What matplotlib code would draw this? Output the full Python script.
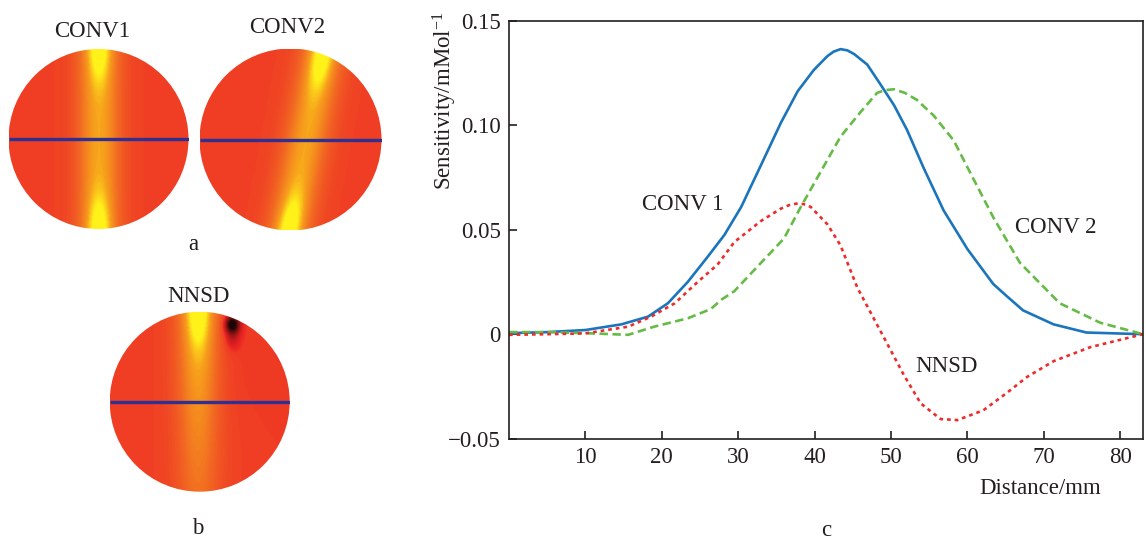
import numpy as np
import matplotlib
matplotlib.use("Agg")
import matplotlib.pyplot as plt
from matplotlib.colors import LinearSegmentedColormap
from matplotlib.patches import Circle

plt.rcParams['font.family'] = ['Liberation Serif', 'DejaVu Serif']
plt.rcParams['mathtext.fontset'] = 'custom'
plt.rcParams['mathtext.rm'] = 'Liberation Serif'
plt.rcParams['mathtext.it'] = 'Liberation Serif:italic'
plt.rcParams['axes.unicode_minus'] = True

# ---------------- data ----------------
conv1_x = [0, 5, 10, 14.7, 18.2, 20.8, 23.4, 26.0, 28.2, 30.4, 33.0, 35.6, 37.8,
           39.9, 41.7, 42.5, 43.4, 44.3, 45.2, 46.9, 48.6, 50.4, 52.1, 54.3, 56.9,
           60.0, 63.4, 65.2, 67.3, 71.3, 75.6, 83.0]
conv1_y = [0.0005, 0.001, 0.002, 0.0047, 0.0084, 0.0148, 0.025, 0.037, 0.0475,
           0.0609, 0.081, 0.1012, 0.1163, 0.1264, 0.1331, 0.1352, 0.1364, 0.1358,
           0.134, 0.129, 0.1197, 0.1096, 0.0978, 0.0794, 0.0592, 0.0408, 0.024,
           0.0181, 0.0114, 0.0047, 0.0008, 0.0]

conv2_x = [0, 5, 10, 15.6, 19.0, 23.4, 26.4, 27.8, 29.5, 32.1, 36.0, 38.2, 40.8,
           43.4, 46.0, 48.2, 49.3, 50.4, 51.8, 53.4, 55.6, 58.2, 60.8, 63.4, 66.9,
           72.1, 77.4, 83.0]
conv2_y = [0.001, 0.001, 0.0005, -0.0003, 0.0036, 0.0076, 0.012, 0.0165, 0.0206,
           0.0307, 0.0458, 0.0609, 0.0777, 0.0945, 0.1062, 0.1155, 0.1168, 0.1172,
           0.1155, 0.1121, 0.1046, 0.0928, 0.0743, 0.0559, 0.0341, 0.0148,
           0.0055, 0.0]

nnsd_x = [0, 5, 10, 15.6, 18.6, 21.7, 24.7, 27.3, 29.5, 33.0, 35.6, 36.7, 37.8,
          38.6, 39.5, 41.7, 43.4, 45.6, 47.8, 50.0, 51.7, 53.9, 56.5, 58.7, 62.1,
          65.2, 67.8, 71.3, 76.1, 83.0]
nnsd_y = [-0.0003, 0.0, 0.0004, 0.0036, 0.0084, 0.0148, 0.025, 0.0333, 0.0441,
          0.0542, 0.0601, 0.0618, 0.0626, 0.0622, 0.0609, 0.0525, 0.0425, 0.0223,
          0.0072, -0.0079, -0.0196, -0.0331, -0.0406, -0.0411, -0.0364, -0.028,
          -0.0205, -0.0129, -0.0062, 0.0]

x_ticks = [10, 20, 30, 40, 50, 60, 70, 80]
y_ticks = [-0.05, 0, 0.05, 0.10, 0.15]
y_tick_labels = ['\u22120.05', '0', '0.05', '0.10', '0.15']

series_labels = ['CONV 1', 'CONV 2', 'NNSD']
map_titles = ['CONV1', 'CONV2', 'NNSD']
panel_letters = ['a', 'b', 'c']

# ---------------- figure ----------------
fig = plt.figure(figsize=(11.46, 5.47), dpi=100)
FS = 16.5
TXT = '#231F20'

# ----- heat-map discs -----
cmap = LinearSegmentedColormap.from_list(
    'heat', [(0.0, '#140606'), (0.30, '#a01515'), (0.47, '#EC2424'), (0.5, '#EF3A24'),
             (0.68, '#F26B22'), (0.85, '#F7A01C'), (1.0, '#FFF21A')])

n = 300
u, v = np.meshgrid(np.linspace(-1, 1, n), np.linspace(-1, 1, n))


def g(a, s):
    return np.exp(-a ** 2 / (2 * s ** 2))


def band(d, vv, top_amp, bottom_amp):
    amp = bottom_amp + (top_amp - bottom_amp) * (vv + 1) / 2
    return amp * g(d, 0.16) + 0.08 * g(d, 0.35)


def field_conv1():
    f = band(u, v, 0.62, 0.62) + 0.14 * v ** 4 * g(u, 0.11)
    f += 0.38 * g(u, 0.08) * (g(v - 0.98, 0.26) + g(v + 0.98, 0.26))
    return f


def field_conv2():
    d = (u - (0.17 + 0.19 * v)) / np.sqrt(1 + 0.19 ** 2)
    f = band(d, v, 0.62, 0.62) + 0.14 * v ** 4 * g(d, 0.11)
    f += 0.38 * g(d, 0.08) * g(v - 0.86, 0.24)
    f += 0.38 * g(d, 0.08) * g(v + 0.93, 0.24)
    return f


def field_nnsd():
    f = band(u + 0.02, v, 0.68, 0.30) + 0.15 * g(u + 0.02, 0.09) * ((v + 1) / 2) ** 3
    f += 0.38 * g(u + 0.02, 0.08) * g(v - 0.98, 0.24)
    f -= 0.04 * (0.5 + 0.5 * np.tanh((u - 0.2) / 0.1)) * (0.5 + 0.5 * np.tanh(v / 0.4))
    f -= 1.0 * g(u - 0.36, 0.055) * g(v - 0.87, 0.065)
    f -= 0.35 * g(u - 0.36, 0.06) * g(v - 0.76, 0.11)
    return f


discs = [
    (field_conv1(), (98.5, 139.0, 90.0), (92.5, 31.5)),
    (field_conv2(), (290.5, 139.5, 91.0), (287.5, 27.5)),
    (field_nnsd(), (199.7, 401.7, 90.0), (198.0, 296.0)),
]

W, H = 1146.0, 547.0
for (fld, (cx, cy, r), (tx, ty)), title in zip(discs, map_titles):
    ax = fig.add_axes([(cx - r) / W, 1 - (cy + r) / H, 2 * r / W, 2 * r / H])
    levels = np.linspace(-1, 1, 61)
    fq = np.digitize(np.clip(fld, -1, 1), levels) / 60.0 * 2 - 1
    im = ax.imshow(fq, extent=[-1, 1, -1, 1], origin='lower', cmap=cmap,
                   vmin=-1, vmax=1, interpolation='bilinear')
    circ = Circle((0, 0), 1.0, transform=ax.transData, facecolor='none',
                  edgecolor='none')
    ax.add_patch(circ)
    im.set_clip_path(circ)
    ax.plot([-1, 1], [0, 0], color='#2E3192', lw=2.4, solid_capstyle='butt')
    ax.set_xlim(-1, 1)
    ax.set_ylim(-1, 1)
    ax.axis('off')
    fig.text(tx / W, 1 - ty / H, title, ha='center', va='center', fontsize=FS,
             color=TXT)

fig.text(193 / W, 1 - 245 / H, panel_letters[0], ha='center', va='center', fontsize=FS, color=TXT)
fig.text(198 / W, 1 - 528 / H, panel_letters[1], ha='center', va='center', fontsize=FS, color=TXT)
fig.text(826 / W, 1 - 530 / H, panel_letters[2], ha='center', va='center', fontsize=FS, color=TXT)

# ----- line chart -----
L, R, T, B = 509, 1143, 20.7, 438.7
axc = fig.add_axes([L / W, 1 - B / H, (R - L) / W, (B - T) / H])
axc.plot(conv1_x, conv1_y, color='#1B75BC', lw=1.9, solid_joinstyle='round')
axc.plot(conv2_x, conv2_y, color='#66BB46', lw=1.9, dashes=(3.2, 1.7))
axc.plot(nnsd_x, nnsd_y, color='#EE2B2B', lw=1.9, dashes=(1.4, 1.5))
axc.set_xlim(0, 83)
axc.set_ylim(-0.05, 0.15)
axc.set_xticks(x_ticks)
axc.set_xticklabels([str(t) for t in x_ticks])
axc.set_yticks(y_ticks)
axc.set_yticklabels(y_tick_labels)
axc.tick_params(direction='in', length=6, width=1.2, labelsize=FS, pad=6,
                colors=TXT)
for sp in axc.spines.values():
    sp.set_linewidth(1.2)
    sp.set_color(TXT)

# y label: placed in the upper part, as in the reference
fig.text(445 / W, 1 - 12 / H, 'Sensitivity/mMol$^{-1}$', rotation=90,
         ha='center', va='top', fontsize=FS, color=TXT)

axc.text((1040 - L) / (R - L), (B - 489) / (B - T), 'Distance/mm',
         transform=axc.transAxes, ha='center', va='center', fontsize=FS, color=TXT)

label_pos = [(683, 205), (1056, 228), (946, 367)]
for lab, (px, py) in zip(series_labels, label_pos):
    axc.text((px - L) / (R - L), (B - py) / (B - T), lab, transform=axc.transAxes,
             ha='center', va='center', fontsize=FS, color=TXT)

fig.savefig('out.png', dpi=100)
